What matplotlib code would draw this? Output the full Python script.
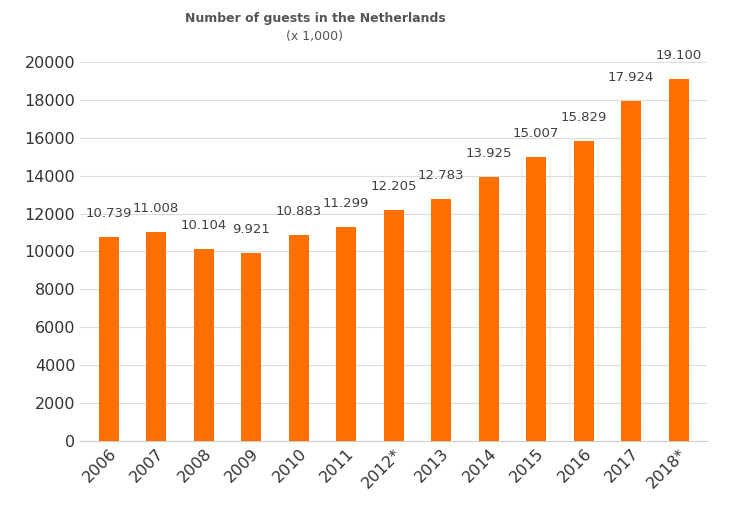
import matplotlib
matplotlib.use("Agg")
import matplotlib.pyplot as plt

years = ["2006","2007","2008","2009","2010","2011","2012*","2013","2014","2015","2016","2017","2018*"]
guests = [10739,11008,10104,9921,10883,11299,12205,12783,13925,15007,15829,17924,19100]
labels = ["10.739","11.008","10.104","9.921","10.883","11.299","12.205","12.783","13.925","15.007","15.829","17.924","19.100"]
yticks = [0,2000,4000,6000,8000,10000,12000,14000,16000,18000,20000]

fig = plt.figure(figsize=(7.29,5.08), dpi=100)
ax = fig.add_axes([0.11, 0.132, 0.86, 0.746])
x = range(len(years))
ax.bar(x, guests, width=0.42, color="#FF7000", zorder=3)
for i, (v, l) in enumerate(zip(guests, labels)):
    ax.text(i, v + 900, l, ha="center", va="bottom", fontsize=9.5, color="#404040")
ax.set_xlim(-0.6, len(years)-0.4)
ax.set_ylim(0, 20000)
ax.set_yticks(yticks)
ax.set_yticklabels([str(t) for t in yticks], fontsize=11.5, color="#333333")
ax.set_xticks(list(x))
ax.set_xticklabels(years, rotation=45, ha="right", rotation_mode="anchor", fontsize=11.5, color="#333333")
ax.grid(axis="y", color="#DDDDDD", linewidth=0.8, zorder=0)
for s in ["top","right","left"]:
    ax.spines[s].set_visible(False)
ax.spines["bottom"].set_color("#CCCCCC")
ax.tick_params(axis="both", length=0)
fig.text(0.432, 0.963, "Number of guests in the Netherlands", ha="center", va="center", fontsize=9, fontweight="bold", color="#555555")
fig.text(0.432, 0.928, "(x 1,000)", ha="center", va="center", fontsize=9, color="#555555")
fig.savefig("out.png", dpi=100)
